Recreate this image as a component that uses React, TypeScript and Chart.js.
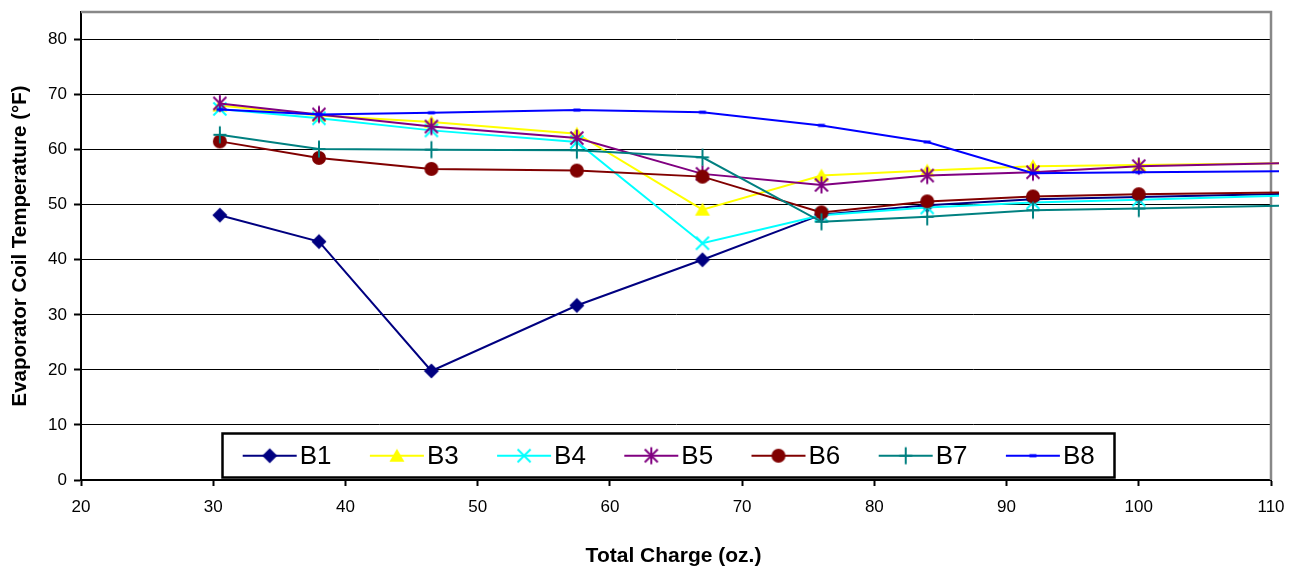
import React, { useEffect, useRef } from 'react';
import { Chart, registerables } from 'chart.js';

Chart.register(...registerables);

// ---- data ----
const charges = [30.5, 38, 46.5, 57.5, 67, 76, 84, 92, 100, 116];
const b1 = [48.1, 43.3, 19.8, 31.7, 40.0, 48.2, 49.9, 51.0, 51.4, 52.2];
const b3 = [68.0, 66.2, 65.0, 62.9, 49.1, 55.3, 56.2, 57.0, 57.2, 57.7];
const b4 = [67.4, 65.7, 63.5, 61.4, 43.0, 48.1, 49.5, 50.4, 50.9, 52.0];
const b5 = [68.4, 66.4, 64.2, 62.1, 55.6, 53.6, 55.3, 55.9, 57.0, 57.8];
const b6 = [61.5, 58.5, 56.5, 56.2, 55.1, 48.6, 50.6, 51.5, 51.9, 52.4];
const b7 = [62.7, 60.1, 60.0, 59.9, 58.6, 46.9, 47.8, 49.0, 49.3, 50.1];
const b8 = [67.3, 66.4, 66.7, 67.2, 66.8, 64.4, 61.4, 55.7, 55.9, 56.2];

const seriesNames = ['B1', 'B3', 'B4', 'B5', 'B6', 'B7', 'B8'];
const seriesValues = [b1, b3, b4, b5, b6, b7, b8];
const seriesColors = ['#000080', '#FFFF00', '#00FFFF', '#800080', '#800000', '#008080', '#0000FF'];
const markerKinds = ['diamond', 'triangle', 'x', 'asterisk', 'circle', 'plus', 'dash'];

const xMin = 20;
const xMax = 110;
const xStep = 10;
const yMin = 0;
const yMax = 85;
const yStep = 10;

const xTitle = 'Total Charge (oz.)';
const yTitle = 'Evaporator Coil Temperature (°F)';

const FONT = "'Liberation Sans', Arial, sans-serif";

function makeMarker(kind: string, color: string): HTMLCanvasElement {
  const c = document.createElement('canvas');
  const s = 20;
  c.width = s;
  c.height = s;
  const g = c.getContext('2d') as CanvasRenderingContext2D;
  const m = s / 2;
  g.fillStyle = color;
  g.strokeStyle = color;
  g.lineWidth = 2;
  g.lineCap = 'butt';
  const line = (x1: number, y1: number, x2: number, y2: number) => {
    g.beginPath();
    g.moveTo(x1, y1);
    g.lineTo(x2, y2);
    g.stroke();
  };
  switch (kind) {
    case 'diamond':
      g.beginPath();
      g.moveTo(m, m - 7.5);
      g.lineTo(m + 7.5, m);
      g.lineTo(m, m + 7.5);
      g.lineTo(m - 7.5, m);
      g.closePath();
      g.fill();
      break;
    case 'triangle':
      g.beginPath();
      g.moveTo(m, m - 7);
      g.lineTo(m + 7.5, m + 6);
      g.lineTo(m - 7.5, m + 6);
      g.closePath();
      g.fill();
      break;
    case 'x':
      line(m - 6.5, m - 6.5, m + 6.5, m + 6.5);
      line(m - 6.5, m + 6.5, m + 6.5, m - 6.5);
      break;
    case 'asterisk':
      line(m - 6.5, m - 6.5, m + 6.5, m + 6.5);
      line(m - 6.5, m + 6.5, m + 6.5, m - 6.5);
      line(m, m - 8.5, m, m + 8.5);
      break;
    case 'circle':
      g.beginPath();
      g.arc(m, m, 7, 0, Math.PI * 2);
      g.fill();
      break;
    case 'plus':
      line(m, m - 8.5, m, m + 8.5);
      line(m - 6.5, m, m + 6.5, m);
      break;
    case 'dash':
      g.fillRect(m - 3.5, m - 1.5, 7, 3);
      break;
  }
  return c;
}

export default function App() {
  const canvasRef = useRef<HTMLCanvasElement | null>(null);

  useEffect(() => {
    const canvas = canvasRef.current;
    if (!canvas) return;
    const markers = markerKinds.map((k, i) => makeMarker(k, seriesColors[i]));

    const decor = {
      id: 'decor',
      beforeDatasetsDraw(chart: any) {
        const { ctx, chartArea: a } = chart;
        ctx.save();
        ctx.strokeStyle = '#888888';
        ctx.lineWidth = 2.5;
        ctx.beginPath();
        ctx.moveTo(a.left, a.top);
        ctx.lineTo(a.right, a.top);
        ctx.lineTo(a.right, a.bottom);
        ctx.stroke();
        ctx.restore();
      },
      afterDatasetsDraw(chart: any) {
        const { ctx } = chart;
        ctx.save();
        // legend box
        const bx = 222.5, by = 433.5, bw = 892, bh = 44;
        ctx.fillStyle = '#ffffff';
        ctx.fillRect(bx, by, bw, bh);
        ctx.strokeStyle = '#000000';
        ctx.lineWidth = 2.5;
        ctx.strokeRect(bx, by, bw, bh);
        const cy = 455.7;
        seriesNames.forEach((name, i) => {
          const x0 = 242.7 + i * 127.2;
          ctx.strokeStyle = seriesColors[i];
          ctx.lineWidth = 2;
          ctx.beginPath();
          ctx.moveTo(x0, cy);
          ctx.lineTo(x0 + 54, cy);
          ctx.stroke();
          const mk = markers[i];
          ctx.drawImage(mk, x0 + 27 - mk.width / 2, cy - mk.height / 2);
          ctx.fillStyle = '#000000';
          ctx.font = `26px ${FONT}`;
          ctx.textAlign = 'left';
          ctx.textBaseline = 'middle';
          ctx.fillText(name, x0 + 57, cy + 1);
        });
        // axis titles
        ctx.fillStyle = '#000000';
        ctx.textAlign = 'center';
        ctx.textBaseline = 'middle';
        ctx.font = `bold 21px ${FONT}`;
        ctx.fillText(xTitle, 673.5, 556);
        ctx.font = `bold 20.5px ${FONT}`;
        ctx.translate(20, 246);
        ctx.rotate(-Math.PI / 2);
        ctx.fillText(yTitle, 0, 0);
        ctx.restore();
      },
    };

    const chart = new Chart(canvas, {
      type: 'line',
      data: {
        datasets: seriesNames.map((name, i) => ({
          label: name,
          data: charges.map((x, j) => ({ x, y: seriesValues[i][j] })),
          borderColor: seriesColors[i],
          backgroundColor: seriesColors[i],
          borderWidth: 2,
          pointStyle: markers[i] as any,
          pointRadius: 7,
          tension: 0,
          fill: false,
          order: 20 - i,
          clip: { left: 10, top: 10, right: 8, bottom: 10 } as any,
        })),
      },
      options: {
        responsive: false,
        animation: false,
        events: [],
        layout: { padding: { left: 0, right: 28, top: 12, bottom: 0 } },
        plugins: {
          legend: { display: false },
          tooltip: { enabled: false },
          title: { display: false },
        },
        scales: {
          x: {
            type: 'linear',
            min: xMin,
            max: xMax,
            afterFit: (s: any) => {
              s.height = 89;
              s.paddingLeft = 0;
              s.paddingRight = 0;
            },
            ticks: {
              stepSize: xStep,
              color: '#000000',
              font: { family: FONT, size: 17 },
              padding: 11,
              maxRotation: 0,
            },
            grid: {
              drawOnChartArea: false,
              drawTicks: true,
              tickLength: 6,
              tickWidth: 2,
              tickColor: '#000000',
            },
            border: { display: true, color: '#000000', width: 2 },
          },
          y: {
            type: 'linear',
            min: yMin,
            max: yMax,
            afterFit: (s: any) => {
              s.width = 81;
              s.paddingTop = 0;
              s.paddingBottom = 0;
            },
            ticks: {
              stepSize: yStep,
              color: '#000000',
              font: { family: FONT, size: 17 },
              padding: 7,
              callback: (v: any) => (Number(v) % 10 === 0 ? String(v) : ''),
            },
            grid: {
              color: (c: any) => (c.tick && c.tick.value % 10 !== 0 ? 'rgba(0,0,0,0)' : '#000000'),
              tickColor: (c: any) => (c.tick && c.tick.value % 10 !== 0 ? 'rgba(0,0,0,0)' : '#000000'),
              lineWidth: 1,
              tickWidth: 2,
              tickLength: 7,
            },
            border: { display: true, color: '#000000', width: 2 },
          },
        },
      },
      plugins: [decor],
    });

    return () => {
      chart.destroy();
    };
  }, []);

  return (
    <div style={{ position: 'absolute', left: 0, top: 0, width: 1299, height: 569, background: '#ffffff' }}>
      <canvas ref={canvasRef} width={1299} height={569} style={{ display: 'block' }} />
    </div>
  );
}
